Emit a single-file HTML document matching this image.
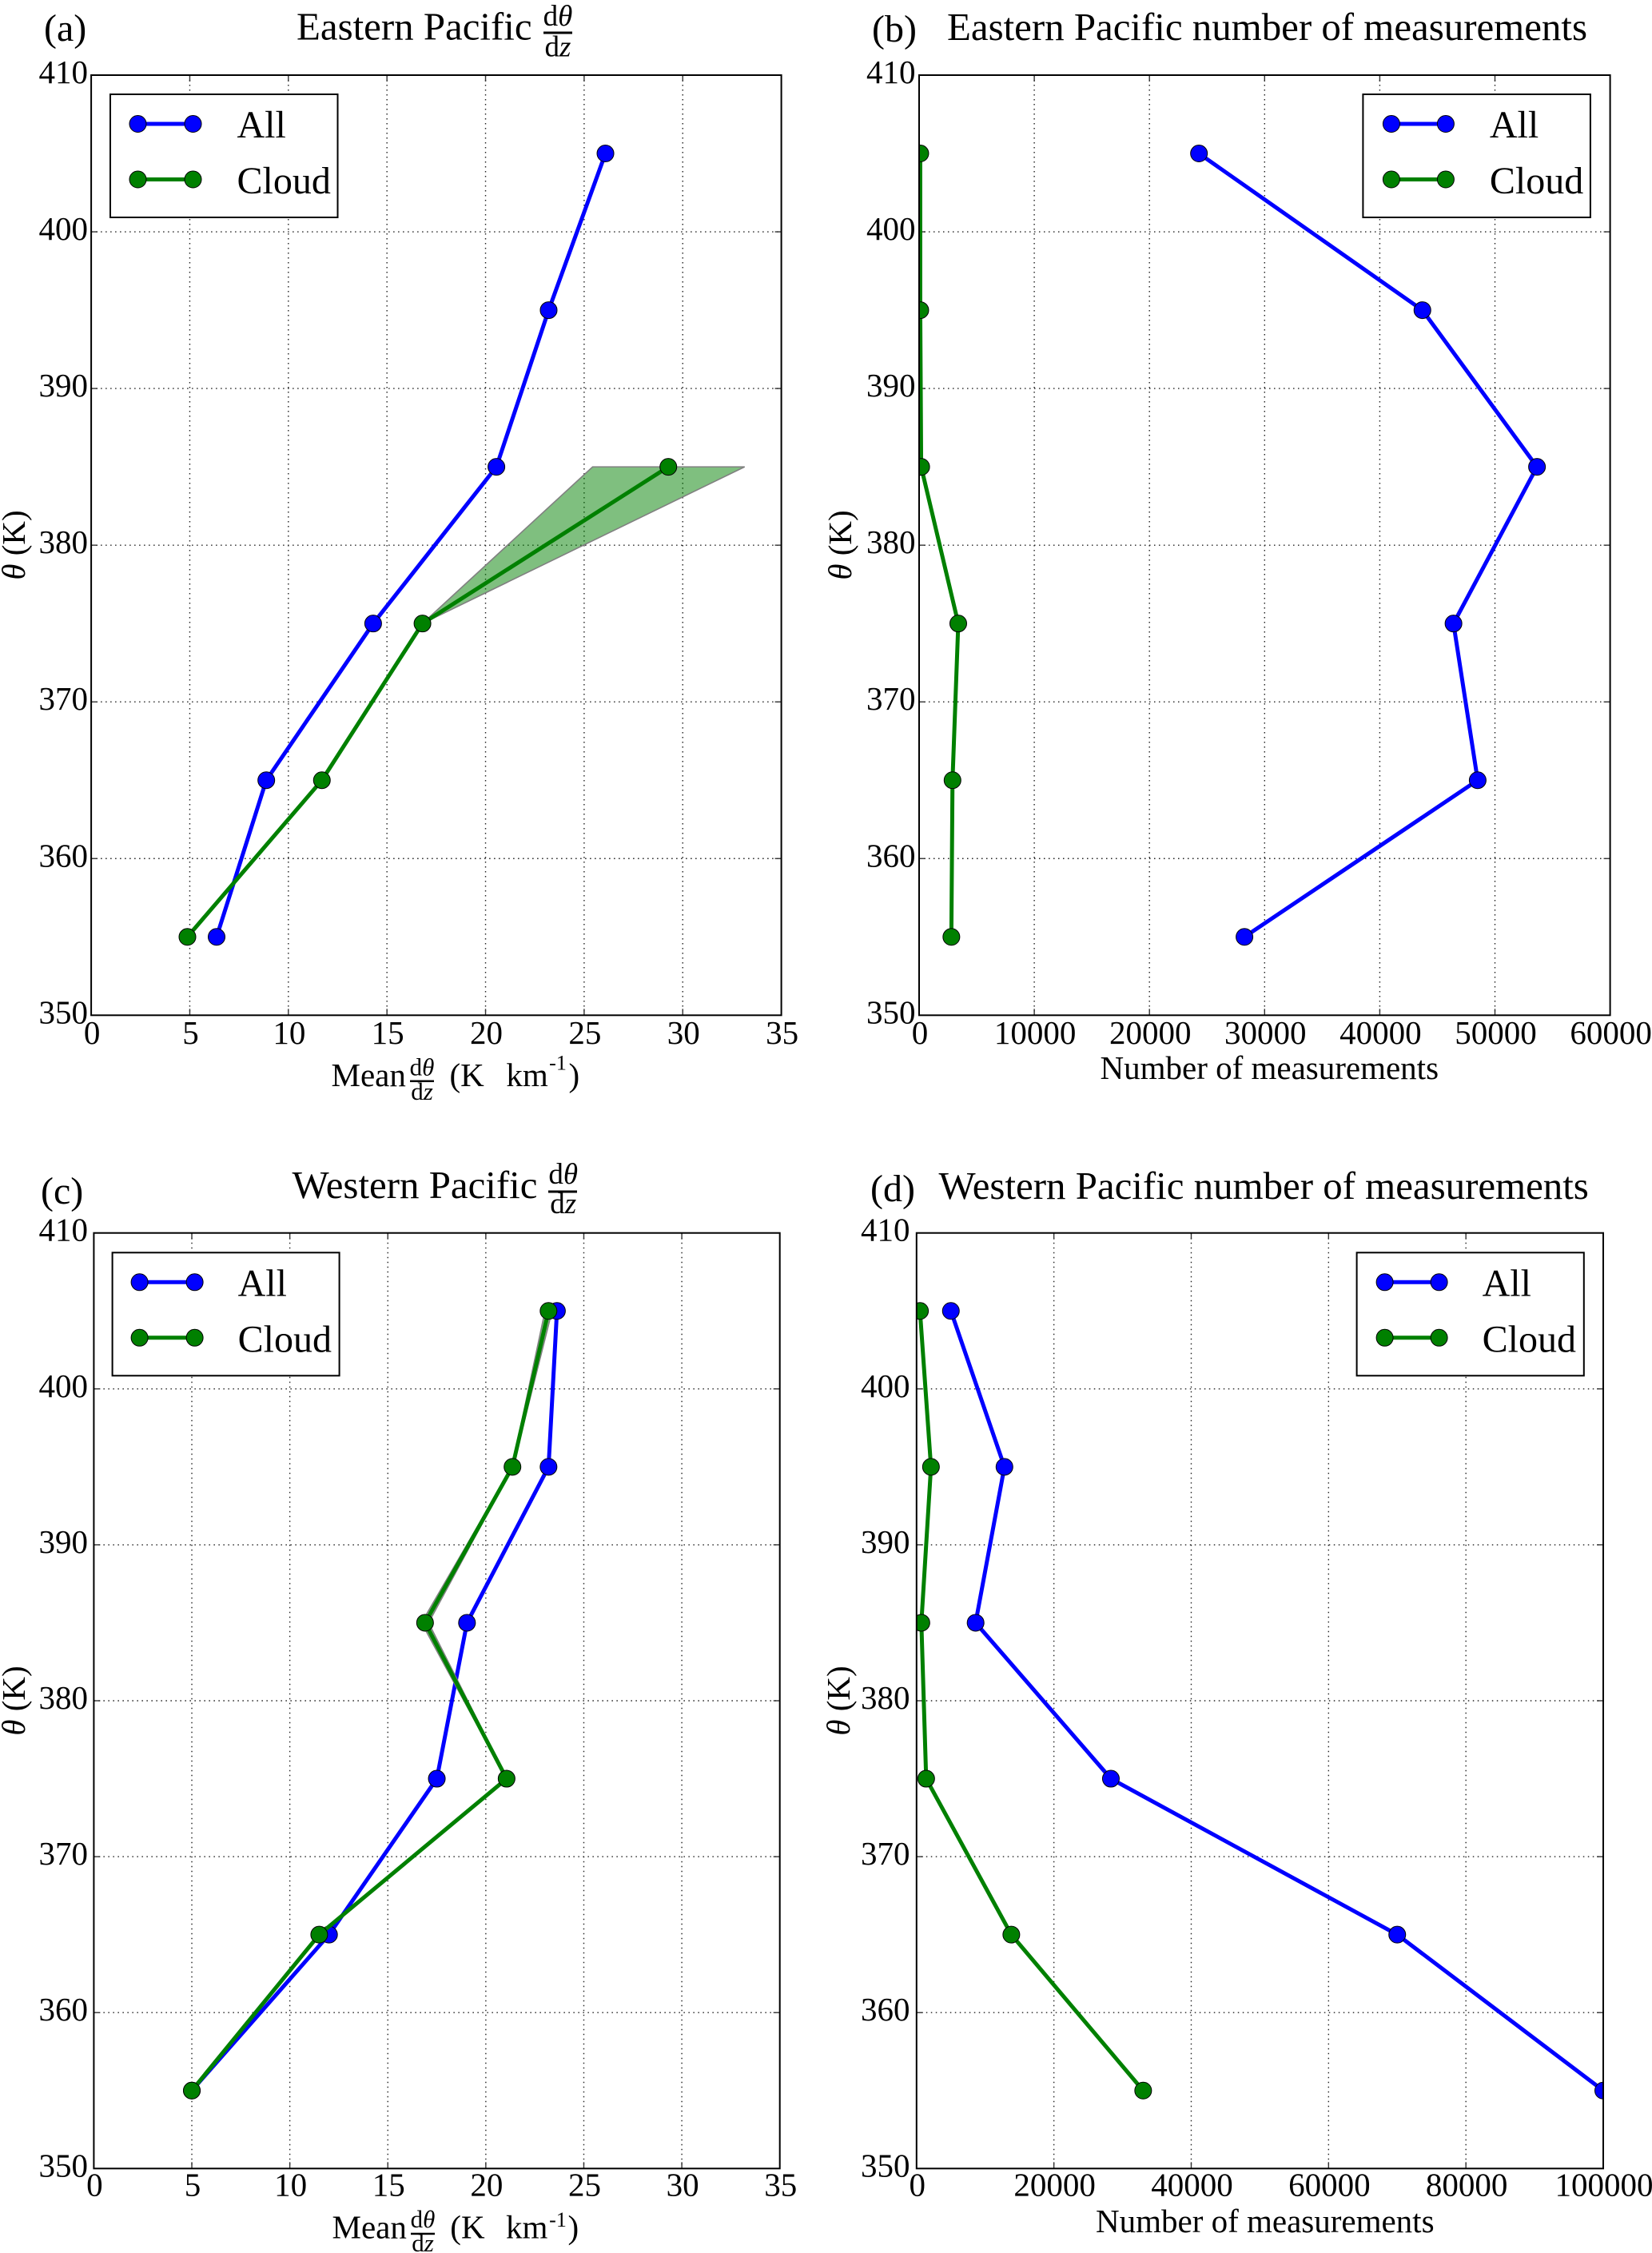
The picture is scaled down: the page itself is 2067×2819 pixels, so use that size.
<!DOCTYPE html>
<html lang="en">
<head>
<meta charset="utf-8">
<title>Pacific potential temperature gradient profiles</title>
<style>
html,body{margin:0;padding:0;background:#fff;}
svg{display:block;}
text{font-family:"Liberation Serif","Times New Roman",serif;fill:#000;}
.tick{font-size:41px;}
.title{font-size:48.9px;}
.panel{font-size:48px;}
.label{font-size:41px;}
.legend-text{font-size:48px;}
.frac-title{font-size:37px;text-anchor:middle;}
.frac-label{font-size:31px;text-anchor:middle;}
.sup{font-size:26px;text-anchor:middle;}
.it{font-style:italic;}
</style>
</head>
<body>
<svg id="figure" xmlns="http://www.w3.org/2000/svg" width="2067" height="2819" viewBox="0 0 2067 2819">
  <rect x="0" y="0" width="2067" height="2819" fill="#fff"/>
  <defs>
    <clipPath id="clip-a"><rect x="114" y="94" width="864" height="1176"/></clipPath>
    <clipPath id="clip-b"><rect x="1150" y="94" width="865" height="1176"/></clipPath>
    <clipPath id="clip-c"><rect x="117.4" y="1543" width="858" height="1170"/></clipPath>
    <clipPath id="clip-d"><rect x="1147" y="1543" width="859" height="1170"/></clipPath>
  </defs>

  <g id="panel-a"></g>
  <g id="panel-b"></g>
  <g id="panel-c"></g>
  <g id="panel-d"></g>

  <!-- Panel (a) text -->
  <text class="panel" x="55" y="51">(a)</text>
  <text class="title" x="371" y="49.5">Eastern Pacific</text>
  <g>
    <text class="frac-title" x="698" y="32">d<tspan class="it">θ</tspan></text>
    <rect x="680" y="39.5" width="36" height="3"/>
    <text class="frac-title" x="698" y="70.5">d<tspan class="it">z</tspan></text>
  </g>
  <text class="label" transform="translate(31,682) rotate(-90)" text-anchor="middle"><tspan class="it">θ</tspan> (K)</text>
  <g>
    <text class="label" x="414.5" y="1359">Mean</text>
    <text class="frac-label" x="528" y="1345.5">d<tspan class="it">θ</tspan></text>
    <rect x="513" y="1351.5" width="30" height="2.5"/>
    <text class="frac-label" x="528" y="1376">d<tspan class="it">z</tspan></text>
    <text class="label" x="562.5" y="1359">(K</text>
    <text class="label" x="633.4" y="1359">km</text>
    <text class="sup" x="698" y="1338.5">-1</text>
    <text class="label" x="711.5" y="1359">)</text>
  </g>

  <!-- Panel (b) text -->
  <text class="panel" x="1091" y="52">(b)</text>
  <text class="title" x="1185" y="50">Eastern Pacific number of measurements</text>
  <text class="label" transform="translate(1065,682) rotate(-90)" text-anchor="middle"><tspan class="it">θ</tspan> (K)</text>
  <text class="label" x="1376.5" y="1350">Number of measurements</text>

  <!-- Panel (c) text -->
  <text class="panel" x="51" y="1506">(c)</text>
  <text class="title" x="365.5" y="1499">Western Pacific</text>
  <g>
    <text class="frac-title" x="704.7" y="1481">d<tspan class="it">θ</tspan></text>
    <rect x="686" y="1489.5" width="36" height="3"/>
    <text class="frac-title" x="704.7" y="1518">d<tspan class="it">z</tspan></text>
  </g>
  <text class="label" transform="translate(31,2128) rotate(-90)" text-anchor="middle"><tspan class="it">θ</tspan> (K)</text>
  <g>
    <text class="label" x="415.5" y="2800.7">Mean</text>
    <text class="frac-label" x="529" y="2787">d<tspan class="it">θ</tspan></text>
    <rect x="514" y="2793.7" width="30" height="2.5"/>
    <text class="frac-label" x="529" y="2817">d<tspan class="it">z</tspan></text>
    <text class="label" x="563.3" y="2800.7">(K</text>
    <text class="label" x="633" y="2800.7">km</text>
    <text class="sup" x="698" y="2786">-1</text>
    <text class="label" x="710.5" y="2800.7">)</text>
  </g>

  <!-- Panel (d) text -->
  <text class="panel" x="1089" y="1503">(d)</text>
  <text class="title" x="1174.5" y="1500">Western Pacific number of measurements</text>
  <text class="label" transform="translate(1063,2128) rotate(-90)" text-anchor="middle"><tspan class="it">θ</tspan> (K)</text>
  <text class="label" x="1371" y="2793">Number of measurements</text>
</svg>

<script>
// ---- Chart data ----
const levels = [355, 365, 375, 385, 395, 405];
const yTickValues = [350, 360, 370, 380, 390, 400, 410];
const gradientTicks = [0, 5, 10, 15, 20, 25, 30, 35];
const countTicksEast = [0, 10000, 20000, 30000, 40000, 50000, 60000];
const countTicksWest = [0, 20000, 40000, 60000, 80000, 100000];

const allEastGradient = [6.36, 8.88, 14.3, 20.55, 23.2, 26.08];
const cloudEastGradient = [4.88, 11.7, 16.8, 29.27];
const cloudEastLower = [4.88, 11.7, 16.8, 25.43];
const cloudEastUpper = [4.88, 11.7, 16.8, 33.14];

const allEastCount = [28250, 48500, 46400, 53650, 43700, 24300];
const cloudEastCount = [2800, 2900, 3400, 180, 100, 100];

const allWestGradient = [5, 12, 17.5, 19.04, 23.2, 23.63];
const cloudWestGradient = [5, 11.5, 21.06, 16.9, 21.36, 23.2];
const cloudWestLower = [5, 11.5, 21.04, 16.72, 21.34, 23.02];
const cloudWestUpper = [5, 11.5, 21.08, 17.08, 21.38, 23.38];

const allWestCount = [100000, 70000, 28300, 8600, 12800, 5000];
const cloudWestCount = [33000, 13800, 1400, 700, 2100, 500];

const SVG_NS = 'http://www.w3.org/2000/svg';
const BLUE = '#0000ff';
const GREEN = '#008000';

function make(tag, attrs) {
  const node = document.createElementNS(SVG_NS, tag);
  Object.keys(attrs).forEach(function (key) { node.setAttribute(key, attrs[key]); });
  return node;
}

function drawSeries(plot, prefix, color, xValues, xFn, yFn) {
  const pts = xValues.map(function (v, i) { return xFn(v) + ',' + yFn(levels[i]); }).join(' ');
  const line = make('polyline', { points: pts, fill: 'none', stroke: color, 'stroke-width': 5, 'stroke-linejoin': 'round' });
  
  
  plot.appendChild(line);
  xValues.forEach(function (v, i) {
    const dot = make('circle', { cx: xFn(v), cy: yFn(levels[i]), r: 10.5, fill: color, stroke: '#000', 'stroke-width': 1 });
    
    
    plot.appendChild(dot);
  });
}

function drawBand(plot, prefix, lower, upper, xFn, yFn) {
  const lowerPts = lower.map(function (v, i) { return xFn(v) + ',' + yFn(levels[i]); });
  const upperPts = upper.map(function (v, i) { return xFn(v) + ',' + yFn(levels[i]); }).reverse();
  const band = make('polygon', { points: lowerPts.concat(upperPts).join(' '), fill: 'rgb(0,128,0)', 'fill-opacity': 0.5, stroke: '#808080', 'stroke-width': 1.6 });
  
  
  plot.appendChild(band);
}

function drawPanel(cfg) {
  const root = document.getElementById('panel-' + cfg.id);
  const box = cfg.box;
  const xMax = cfg.xTicks[cfg.xTicks.length - 1];
  const xFn = function (v) { return box.l + (v / xMax) * (box.r - box.l); };
  const yFn = function (v) { return box.b - ((v - 350) / 60) * (box.b - box.t); };

  // grid and tick marks
  yTickValues.forEach(function (v) {
    const y = yFn(v);
    if (v !== 350 && v !== 410) {
      const grid = make('line', { x1: box.l, x2: box.r, y1: y, y2: y, stroke: '#222', 'stroke-width': 1.4, 'stroke-dasharray': '1.5 4.5' });
      
      
      root.appendChild(grid);
      const t1 = make('line', { x1: box.l, x2: box.l + 8, y1: y, y2: y, stroke: '#333', 'stroke-width': 1.4 });
      
      
      root.appendChild(t1);
      const t2 = make('line', { x1: box.r - 8, x2: box.r, y1: y, y2: y, stroke: '#333', 'stroke-width': 1.4 });
      
      
      root.appendChild(t2);
    }
    const label = make('text', { class: 'tick', x: box.ylab, y: y + 10, 'text-anchor': 'end' });
    label.textContent = String(v);
    
    
    root.appendChild(label);
  });
  cfg.xTicks.forEach(function (v) {
    const x = xFn(v);
    if (v !== 0 && v !== xMax) {
      const grid = make('line', { x1: x, x2: x, y1: box.t, y2: box.b, stroke: '#222', 'stroke-width': 1.4, 'stroke-dasharray': '1.5 4.5' });
      
      
      root.appendChild(grid);
      const t1 = make('line', { x1: x, x2: x, y1: box.b - 8, y2: box.b, stroke: '#333', 'stroke-width': 1.4 });
      
      
      root.appendChild(t1);
      const t2 = make('line', { x1: x, x2: x, y1: box.t, y2: box.t + 8, stroke: '#333', 'stroke-width': 1.4 });
      
      
      root.appendChild(t2);
    }
    const label = make('text', { class: 'tick', x: x + 1, y: box.xlab, 'text-anchor': 'middle' });
    label.textContent = String(v);
    
    
    root.appendChild(label);
  });

  // series, clipped to the axes
  const plot = make('g', { 'clip-path': 'url(#clip-' + cfg.id + ')' });
  
  
  root.appendChild(plot);
  drawSeries(plot, 'all', BLUE, cfg.all, xFn, yFn);
  if (cfg.lower) {
    drawBand(plot, 'cloud', cfg.lower, cfg.upper, xFn, yFn);
  }
  drawSeries(plot, 'cloud', GREEN, cfg.cloud, xFn, yFn);

  // frame
  const frame = make('rect', { x: box.l, y: box.t, width: box.r - box.l, height: box.b - box.t, fill: 'none', stroke: '#000', 'stroke-width': 2 });
  
  
  root.appendChild(frame);

  // legend
  const lg = cfg.legend;
  const legend = make('g', {});
  
  
  root.appendChild(legend);
  const legendBox = make('rect', { x: lg.l, y: lg.t, width: lg.w, height: 154, fill: '#fff', stroke: '#000', 'stroke-width': 2 });
  
  
  legend.appendChild(legendBox);
  [['All', BLUE, 37, 54], ['Cloud', GREEN, 106.5, 124]].forEach(function (row) {
    const handleY = lg.t + row[2];
    const handle = make('line', { x1: lg.l + lg.h1, x2: lg.l + lg.h2, y1: handleY, y2: handleY, stroke: row[1], 'stroke-width': 5 });
    
    
    legend.appendChild(handle);
    [lg.h1, lg.h2].forEach(function (hx) {
      const dot = make('circle', { cx: lg.l + hx, cy: handleY, r: 10.5, fill: row[1], stroke: '#000', 'stroke-width': 1 });
      
      
      legend.appendChild(dot);
    });
    const text = make('text', { class: 'legend-text', x: lg.l + lg.tx, y: lg.t + row[3] });
    text.textContent = row[0];
    
    
    legend.appendChild(text);
  });
}

drawPanel({
  id: 'a',
  box: { l: 114.1, r: 977.6, t: 94, b: 1270.3, ylab: 110, xlab: 1306 },
  xTicks: gradientTicks,
  all: allEastGradient,
  cloud: cloudEastGradient,
  lower: cloudEastLower,
  upper: cloudEastUpper,
  legend: { l: 138, t: 118, w: 284.5, h1: 34.5, h2: 103.5, tx: 158.5 }
});
drawPanel({
  id: 'b',
  box: { l: 1150, r: 2014.6, t: 94, b: 1270.3, ylab: 1145.5, xlab: 1306 },
  xTicks: countTicksEast,
  all: allEastCount,
  cloud: cloudEastCount,
  legend: { l: 1705.4, t: 118, w: 284.5, h1: 35.5, h2: 103.5, tx: 158.5 }
});
drawPanel({
  id: 'c',
  box: { l: 117.4, r: 975.7, t: 1542.7, b: 2713.3, ylab: 110, xlab: 2747.7 },
  xTicks: gradientTicks,
  all: allWestGradient,
  cloud: cloudWestGradient,
  lower: cloudWestLower,
  upper: cloudWestUpper,
  legend: { l: 140.6, t: 1567.3, w: 284, h1: 34, h2: 103, tx: 157 }
});
drawPanel({
  id: 'd',
  box: { l: 1146.8, r: 2006, t: 1542.7, b: 2713.3, ylab: 1138.5, xlab: 2747.7 },
  xTicks: countTicksWest,
  all: allWestCount,
  cloud: cloudWestCount,
  legend: { l: 1697.6, t: 1567.3, w: 284.2, h1: 35, h2: 103, tx: 157 }
});
</script>
</body>
</html>
